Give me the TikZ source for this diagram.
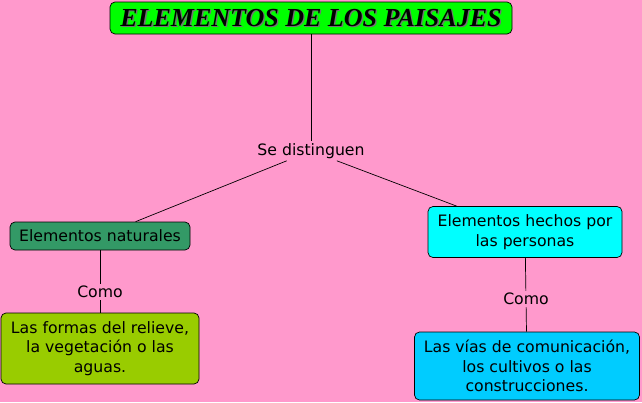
\documentclass[tikz,border=0pt]{standalone}
\usepackage{fontspec}
\setmainfont{DejaVu Sans}
\newfontfamily\titlefont{Liberation Serif}
\begin{document}
\begin{tikzpicture}[x=1pt,y=-1pt]
    % Define colours
    \definecolor{backColour}{HTML}{FF99CC}
    \definecolor{titleColour}{HTML}{00FF00}
    \definecolor{naturalColour}{HTML}{339966}
    \definecolor{limeColour}{HTML}{99CC00}
    \definecolor{cyanColour}{HTML}{00FFFF}
    \definecolor{skyColour}{HTML}{00CCFF}

    % Define styles
    \tikzset{
        concept/.style={draw=black, line width=0.7pt, rounded corners=5pt, align=center,
            font=\fontsize{15.7}{19.5}\selectfont, inner sep=2pt},
        linkword/.style={font=\fontsize{15.7}{19.5}\selectfont, inner sep=2pt},
        link/.style={black, line width=0.7pt}
    }

    % Draw the background
    \fill[backColour] (0,0) rectangle (642,402);

    % Draw the concepts
    \node[concept, fill=titleColour, minimum width=402pt, minimum height=32pt] (title) at (311,18) {};
    \node[font=\titlefont\bfseries\itshape\fontsize{26}{30}\selectfont, text=black!55] at (312.3,19.3) {ELEMENTOS DE LOS PAISAJES};
    \node[font=\titlefont\bfseries\itshape\fontsize{26}{30}\selectfont] (titletext) at (311,18) {ELEMENTOS DE LOS PAISAJES};
    \node[linkword] (distinguish) at (311,151) {Se distinguen};
    \node[concept, fill=naturalColour, minimum width=180pt, minimum height=28pt] (natural) at (100,236) {Elementos naturales};
    \node[concept, fill=cyanColour, minimum width=194pt, minimum height=51pt] (human) at (525,232) {Elementos hechos por\\las personas};
    \node[linkword] (como1) at (100,292) {Como};
    \node[linkword] (como2) at (526,299) {Como};
    \node[concept, fill=limeColour, minimum width=198pt, minimum height=71pt] (relief) at (100,348.5) {Las formas del relieve,\\la vegetación o las\\aguas.};
    \node[concept, fill=skyColour, minimum width=225pt, minimum height=68pt] (roads) at (527,366) {Las vías de comunicación,\\los cultivos o las\\construcciones.};

    % Draw the links
    \draw[link] (title) -- (distinguish);
    \draw[link] (distinguish) -- (natural);
    \draw[link] (distinguish) -- (human);
    \draw[link] (natural) -- (como1) -- (relief);
    \draw[link] (human) -- (como2) -- (roads);
\end{tikzpicture}
\end{document}
